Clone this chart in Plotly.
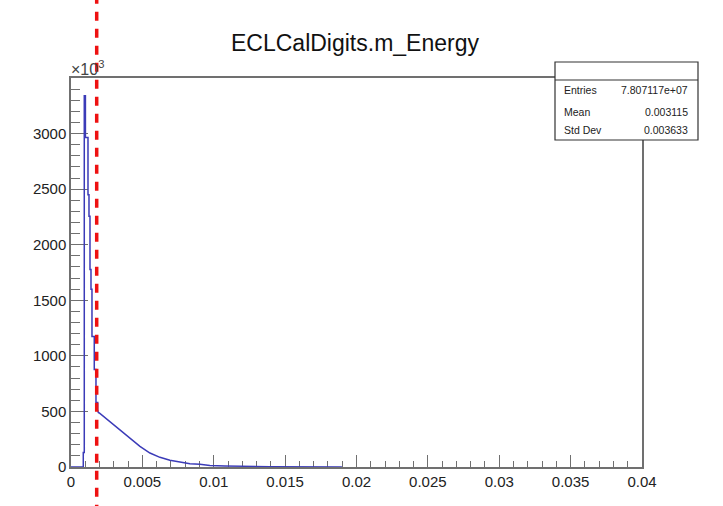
import plotly.graph_objects as go

# ---- data ----
energy = [0.0, 0.00086, 0.00086, 0.00093, 0.00093, 0.00101, 0.00101, 0.00119, 0.00119,
          0.00126, 0.00126, 0.00133, 0.00133, 0.0014, 0.0014, 0.00147, 0.00147,
          0.00163, 0.00163, 0.00175, 0.00175, 0.00187, 0.00187, 0.00191, 0.00198,
          0.00226, 0.00250, 0.00273, 0.00308, 0.00343, 0.00413, 0.00483, 0.00553,
          0.00623, 0.00693, 0.00763, 0.00833, 0.00903, 0.00973, 0.01078, 0.01183,
          0.01394, 0.01898]
counts_k = [0, 0, 130, 130, 3340, 3340, 2964, 2964, 2450,
            2450, 2255, 2255, 1778, 1778, 1600, 1600, 1175,
            1175, 877, 877, 580, 580, 516, 490, 486,
            456, 438, 411, 375, 336, 261, 186, 126,
            87, 60, 42, 30, 24, 14, 10, 6,
            3, 1]

x_tickvals = [0, 0.005, 0.01, 0.015, 0.02, 0.025, 0.03, 0.035, 0.04]
x_ticktext = ["0", "0.005", "0.01", "0.015", "0.02", "0.025", "0.03", "0.035", "0.04"]
y_tickvals = [0, 500, 1000, 1500, 2000, 2500, 3000]
y_ticktext = ["0", "500", "1000", "1500", "2000", "2500", "3000"]

cut_x = 0.0018
stats_labels = ["Entries", "Mean", "Std Dev"]
stats_values = ["7.807117e+07", "0.003115", "0.003633"]
title_text = "ECLCalDigits.m_Energy"

FONT = "Liberation Sans, Arial, Helvetica, sans-serif"
AXC = "#707070"
TXT = "#222222"

fig = go.Figure()
fig.add_trace(go.Scatter(x=energy, y=counts_k, mode="lines",
                         line=dict(color="#3b3bb8", width=1.5),
                         hoverinfo="skip", showlegend=False))

fig.update_layout(
    width=723, height=506,
    margin=dict(l=71, r=81, t=78, b=39),
    paper_bgcolor="white", plot_bgcolor="white",
    font=dict(family=FONT, color=TXT),
    title=dict(text=title_text, x=355 / 723, xanchor="center", y=0.915, yanchor="middle",
               font=dict(size=23, family=FONT, color="#111")),
    showlegend=False,
)

fig.update_xaxes(range=[0, 0.04], tickvals=x_tickvals, ticktext=x_ticktext,
                 showgrid=False, zeroline=False, showline=True, linecolor=AXC,
                 linewidth=1.5, mirror=True, ticks="inside", ticklen=12,
                 tickcolor=AXC, tickwidth=1.2,
                 tickfont=dict(size=15, family=FONT, color=TXT),
                 minor=dict(ticks="inside", dtick=0.001, ticklen=6,
                            tickcolor=AXC, tickwidth=1.2, showgrid=False),
                 layer="below traces")
fig.update_yaxes(range=[0, 3500], tickvals=y_tickvals, ticktext=y_ticktext,
                 showgrid=False, zeroline=False, showline=True, linecolor=AXC,
                 linewidth=1.5, mirror=True, ticks="inside", ticklen=17,
                 tickcolor=AXC, tickwidth=1.2,
                 tickfont=dict(size=15, family=FONT, color=TXT),
                 minor=dict(ticks="inside", dtick=100, ticklen=9,
                            tickcolor=AXC, tickwidth=1.2, showgrid=False),
                 layer="below traces")

# red dashed cut line
fig.add_shape(type="line", xref="x", yref="paper", x0=cut_x, x1=cut_x,
              y0=-0.12, y1=1.25, line=dict(color="#ee1111", width=3.5, dash="9px,8px"),
              layer="above")

# multiplier label
fig.add_annotation(xref="paper", yref="paper", x=-0.003, y=1.0, xanchor="left",
                   yanchor="bottom", showarrow=False, yshift=-2,
                   text="×10<sup>3</sup>", font=dict(size=16, family=FONT, color="#444"))

# stats box
x0, x1 = (555 - 71) / 571, (698 - 71) / 571
y0, y1 = (467 - 140) / 389, (467 - 62) / 389
ysep = (467 - 80) / 389
fig.add_shape(type="rect", xref="paper", yref="paper", x0=x0, x1=x1, y0=y0, y1=y1,
              line=dict(color="#333", width=1.2), fillcolor="white", layer="above")
fig.add_shape(type="line", xref="paper", yref="paper", x0=x0, x1=x1, y0=ysep, y1=ysep,
              line=dict(color="#333", width=1.2), layer="above")
row_y = [90, 111.5, 130]
for lab, val, py in zip(stats_labels, stats_values, row_y):
    yp = (467 - py) / 389
    fig.add_annotation(xref="paper", yref="paper", x=(562 - 71) / 571, y=yp,
                       xanchor="left", yanchor="middle", showarrow=False, text=lab,
                       font=dict(size=10.5, family=FONT, color="#222"))
    fig.add_annotation(xref="paper", yref="paper", x=(690 - 71) / 571, y=yp,
                       xanchor="right", yanchor="middle", showarrow=False, text=val,
                       font=dict(size=10.5, family=FONT, color="#222"))

fig.write_html("out.html")
